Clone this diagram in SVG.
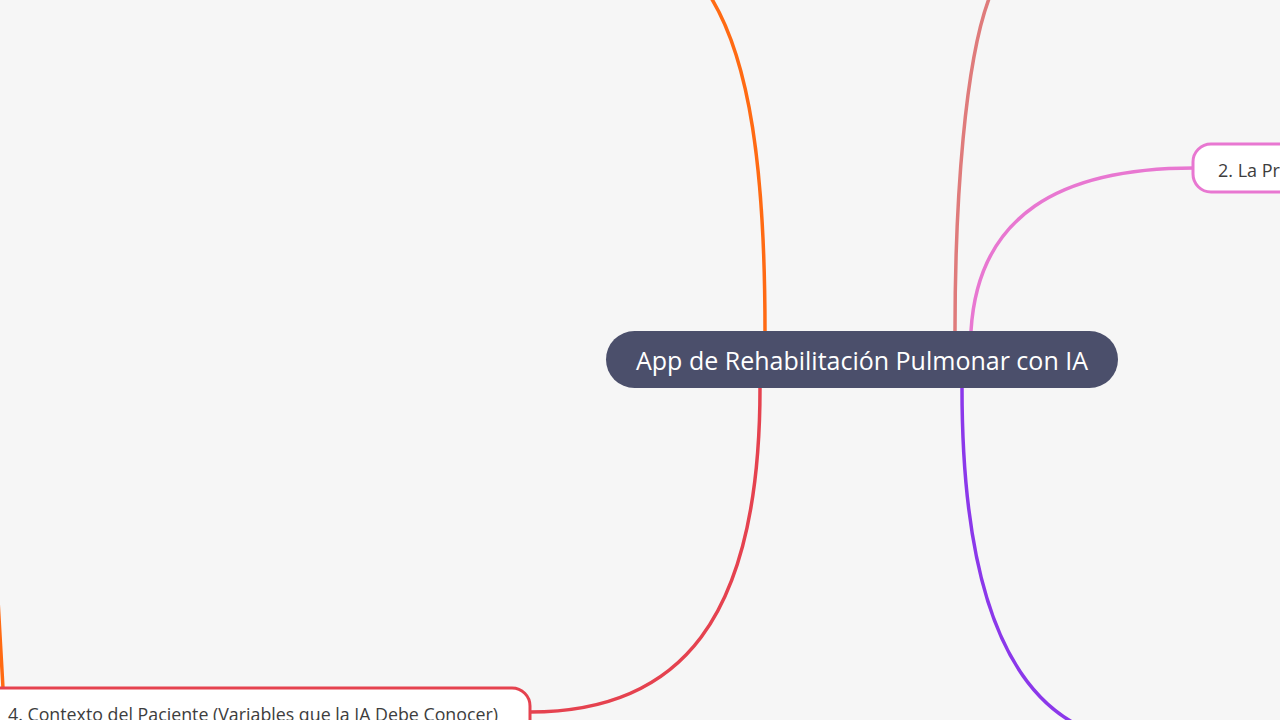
<svg xmlns="http://www.w3.org/2000/svg" width="1280" height="720" viewBox="0 0 1280 720">
<style>
.conn{fill:none;stroke-width:3.5;stroke-linecap:round}
.sub{fill:#ffffff;stroke-width:3}
.subtxt{font-family:"Open Sans","Liberation Sans",sans-serif;font-size:18px;fill:#3d3d3d}
.roottxt{font-family:"Open Sans","Liberation Sans",sans-serif;font-size:25px;fill:#ffffff}
</style>
<rect x="0" y="0" width="1280" height="720" fill="#f6f6f6"/>
<g id="connectors">
<path class="conn" stroke="#ff6a13" d="M765 331 C765 170 750 60 710 -4"/>
<path class="conn" stroke="#ff6a13" stroke-width="2" d="M-2 600 L3 688"/>
<path class="conn" stroke="#df7b7b" d="M955 331 C955 200 965 60 990 -4"/>
<path class="conn" stroke="#e877d1" d="M971 331 C978 215 1060 168 1194 168"/>
<path class="conn" stroke="#e5424f" d="M760 388 C760 620 680 712 530 712"/>
<path class="conn" stroke="#8b38ea" d="M962 388 C962 570 1000 680 1072 722"/>
</g>
<g id="root">
<rect x="606" y="331" width="512" height="57" rx="28.5" fill="#4b4f6b"/>
<text class="roottxt" x="862" y="370" text-anchor="middle" textLength="452" lengthAdjust="spacingAndGlyphs">App de Rehabilitación Pulmonar con IA</text>
</g>
<g id="node2">
<rect class="sub" x="1193" y="144" width="200" height="48" rx="18" stroke="#e877d1"/>
<text class="subtxt" x="1218" y="177">2. La Pr</text>
</g>
<g id="node4">
<rect class="sub" x="-30" y="688" width="560" height="60" rx="18" stroke="#e5424f"/>
<text class="subtxt" x="8" y="721" textLength="490" lengthAdjust="spacingAndGlyphs">4. Contexto del Paciente (Variables que la IA Debe Conocer)</text>
</g>
</svg>
